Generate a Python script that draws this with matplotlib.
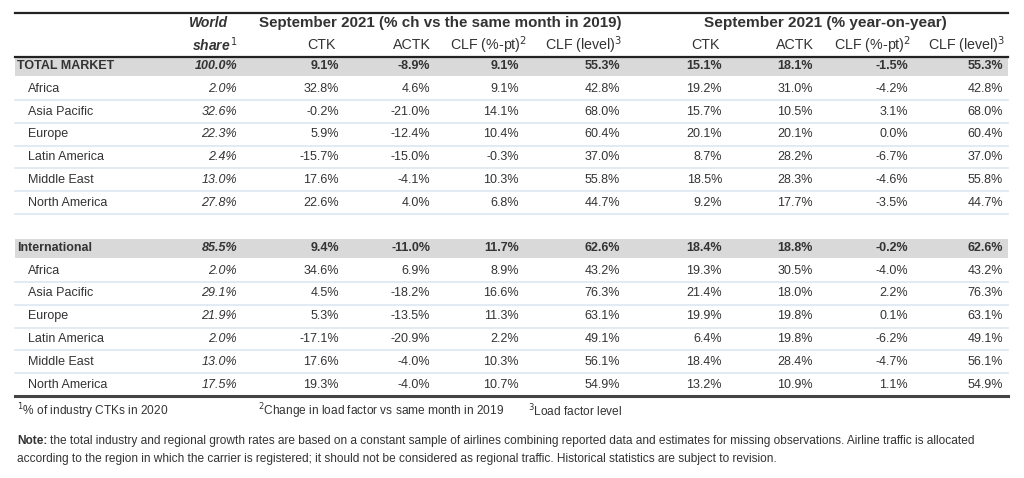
import matplotlib
matplotlib.use("Agg")
import matplotlib.pyplot as plt

# ------------------------
# Data
# ------------------------
regions = ["TOTAL MARKET", "Africa", "Asia Pacific", "Europe", "Latin America",
           "Middle East", "North America", "",
           "International", "Africa", "Asia Pacific", "Europe", "Latin America",
           "Middle East", "North America"]
world_share = ["100.0%", "2.0%", "32.6%", "22.3%", "2.4%", "13.0%", "27.8%", "",
               "85.5%", "2.0%", "29.1%", "21.9%", "2.0%", "13.0%", "17.5%"]
ctk_19 = ["9.1%", "32.8%", "-0.2%", "5.9%", "-15.7%", "17.6%", "22.6%", "",
          "9.4%", "34.6%", "4.5%", "5.3%", "-17.1%", "17.6%", "19.3%"]
actk_19 = ["-8.9%", "4.6%", "-21.0%", "-12.4%", "-15.0%", "-4.1%", "4.0%", "",
           "-11.0%", "6.9%", "-18.2%", "-13.5%", "-20.9%", "-4.0%", "-4.0%"]
clfpt_19 = ["9.1%", "9.1%", "14.1%", "10.4%", "-0.3%", "10.3%", "6.8%", "",
            "11.7%", "8.9%", "16.6%", "11.3%", "2.2%", "10.3%", "10.7%"]
clflvl_19 = ["55.3%", "42.8%", "68.0%", "60.4%", "37.0%", "55.8%", "44.7%", "",
             "62.6%", "43.2%", "76.3%", "63.1%", "49.1%", "56.1%", "54.9%"]
ctk_yoy = ["15.1%", "19.2%", "15.7%", "20.1%", "8.7%", "18.5%", "9.2%", "",
           "18.4%", "19.3%", "21.4%", "19.9%", "6.4%", "18.4%", "13.2%"]
actk_yoy = ["18.1%", "31.0%", "10.5%", "20.1%", "28.2%", "28.3%", "17.7%", "",
            "18.8%", "30.5%", "18.0%", "19.8%", "19.8%", "28.4%", "10.9%"]
clfpt_yoy = ["-1.5%", "-4.2%", "3.1%", "0.0%", "-6.7%", "-4.6%", "-3.5%", "",
             "-0.2%", "-4.0%", "2.2%", "0.1%", "-6.2%", "-4.7%", "1.1%"]
clflvl_yoy = ["55.3%", "42.8%", "68.0%", "60.4%", "37.0%", "55.8%", "44.7%", "",
              "62.6%", "43.2%", "76.3%", "63.1%", "49.1%", "56.1%", "54.9%"]
total_rows = [0, 8]

col_heads = ["CTK", "ACTK", "CLF (%-pt)$^2$", "CLF (level)$^3$",
             "CTK", "ACTK", "CLF (%-pt)$^2$", "CLF (level)$^3$"]
group_heads = ["September 2021 (% ch vs the same month in 2019)",
               "September 2021 (% year-on-year)"]
footnotes = ["$^1$% of industry CTKs in 2020",
             "$^2$Change in load factor vs same month in 2019",
             "$^3$Load factor level"]
note_lines = ["the total industry and regional growth rates are based on a constant sample of airlines "
              "combining reported data and estimates for missing observations. Airline traffic is allocated",
              "according to the region in which the carrier is registered; it should not be considered as "
              "regional traffic. Historical statistics are subject to revision."]

# ------------------------
# Layout (pixel coordinates)
# ------------------------
W, H = 1024, 478
TXT = "#333333"
GRAY = "#d9d9d9"
SEP = "#dde6f1"
FONT = ["Liberation Sans", "DejaVu Sans"]
NARROW = ["Liberation Sans Narrow", "Liberation Sans", "DejaVu Sans"]
BODY = 9
FOOT = 8.6

x_left, x_right = 15, 1008
share_x = 237
value_x = [339, 430, 519, 620, 722, 813, 908, 1003]
head_x = [336, 431, 527, 622, 720, 814, 911, 1005]
row_y0, row_h = 66, 22.75

fig = plt.figure(figsize=(W / 100, H / 100), dpi=100)
ax = fig.add_axes([0, 0, 1, 1])
ax.set_xlim(0, W)
ax.set_ylim(H, 0)
ax.axis("off")

# header
ax.plot([x_left, x_right], [13, 13], color="#222222", lw=1.6)
ax.text(440, 23, group_heads[0], ha="center", va="center", fontsize=10.9,
        fontweight="bold", color=TXT, family=FONT)
ax.text(825, 23, group_heads[1], ha="center", va="center", fontsize=11.1,
        fontweight="bold", color=TXT, family=FONT)
ax.text(228, 23, "World", ha="right", va="center", fontsize=10,
        fontweight="bold", style="italic", color=TXT, family=FONT)
ax.text(238, 45, "share$^{\\,1}$", ha="right", va="center", fontsize=10,
        fontweight="bold", style="italic", color=TXT, family=FONT)
for x, h in zip(head_x, col_heads):
    ax.text(x, 45, h, ha="right", va="center", fontsize=10.3, color=TXT, family=FONT)
ax.plot([x_left, x_right], [56.5, 56.5], color="#222222", lw=1.6)

# body
columns = [ctk_19, actk_19, clfpt_19, clflvl_19, ctk_yoy, actk_yoy, clfpt_yoy, clflvl_yoy]
for i, name in enumerate(regions):
    y = row_y0 + row_h * i
    if name == "":
        continue
    bold = i in total_rows
    if bold:
        ax.fill_between([x_left, x_right], y - 9.5, y + 10, color=GRAY, lw=0, zorder=0)
    elif i + 1 < len(regions) and regions[i + 1] != "" and (i + 1) not in total_rows:
        ax.plot([x_left, x_right], [y + 11.4, y + 11.4], color=SEP, lw=1.2, zorder=0)
    if i == 6:
        ax.plot([x_left, x_right], [y + 11.4, y + 11.4], color=SEP, lw=1.2, zorder=0)
    fw = "bold" if bold else "normal"
    ax.text(17 if bold else 28, y, name, ha="left", va="center", fontsize=BODY,
            fontweight=fw, color=TXT, family=FONT)
    ax.text(share_x, y, world_share[i], ha="right", va="center", fontsize=BODY,
            fontweight=fw, style="italic", color=TXT, family=FONT)
    for x, col in zip(value_x, columns):
        ax.text(x, y, col[i], ha="right", va="center", fontsize=BODY,
                fontweight=fw, color=TXT, family=FONT)
# bottom rule under the last row
ax.plot([x_left, x_right], [396, 396], color="#444444", lw=2.2)

# footnotes
ax.text(17, 411, footnotes[0], ha="left", va="center", fontsize=FOOT, color=TXT, family=NARROW)
ax.text(258, 411, footnotes[1], ha="left", va="center", fontsize=FOOT, color=TXT, family=NARROW)
ax.text(528, 411, footnotes[2], ha="left", va="center", fontsize=FOOT, color=TXT, family=NARROW)
note = ax.text(17, 441, "Note:", ha="left", va="center", fontsize=FOOT, fontweight="bold",
               color=TXT, family=NARROW)
fig.canvas.draw()
bb = note.get_window_extent()
x_after = ax.transData.inverted().transform((bb.x1, 0))[0] + 3
ax.text(x_after, 441, note_lines[0], ha="left", va="center", fontsize=FOOT, color=TXT, family=NARROW)
ax.text(17, 459, note_lines[1], ha="left", va="center", fontsize=FOOT, color=TXT, family=NARROW)

fig.savefig("out.png", dpi=100)
plt.close(fig)
